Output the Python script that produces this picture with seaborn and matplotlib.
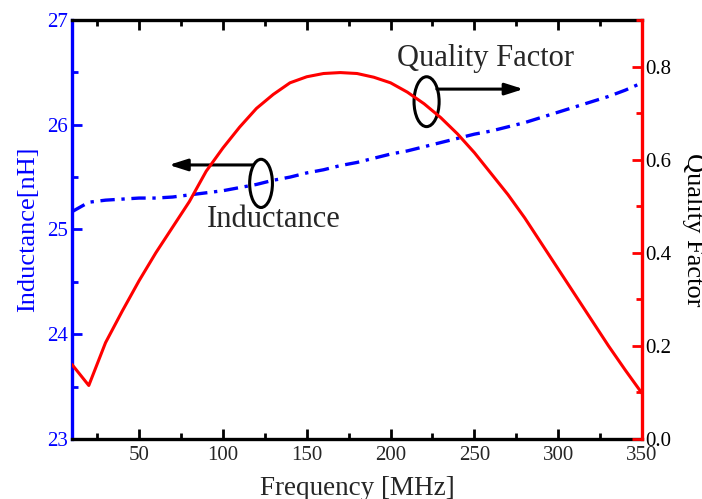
import numpy as np
import pandas as pd
import matplotlib
matplotlib.use("Agg")
import matplotlib.pyplot as plt
from matplotlib.patches import Ellipse
from matplotlib.ticker import MultipleLocator
import seaborn as sns

# values
freq_mhz = [10, 20, 30, 40, 50, 60, 70, 80, 90, 100, 110, 120, 130, 140, 150, 160, 170, 180,
            190, 200, 210, 220, 230, 240, 250, 260, 270, 280, 290, 300, 310, 320, 330, 340, 350]
inductance_nh = [25.17, 25.26, 25.28, 25.29, 25.30, 25.30, 25.31, 25.33, 25.35, 25.37, 25.40,
                 25.43, 25.47, 25.50, 25.54, 25.57, 25.61, 25.64, 25.68, 25.72, 25.75, 25.79,
                 25.83, 25.87, 25.91, 25.94, 25.98, 26.02, 26.07, 26.12, 26.17, 26.22, 26.27,
                 26.33, 26.40]
quality = [0.160, 0.115, 0.207, 0.275, 0.340, 0.400, 0.455, 0.510, 0.575, 0.625, 0.670, 0.710,
           0.740, 0.765, 0.778, 0.785, 0.787, 0.785, 0.777, 0.765, 0.745, 0.720, 0.690, 0.655,
           0.615, 0.570, 0.525, 0.475, 0.420, 0.365, 0.310, 0.255, 0.200, 0.148, 0.098]

df = pd.DataFrame({"Frequency": freq_mhz, "Inductance": inductance_nh, "Q": quality})

sns.set_style("ticks")
plt.rcParams["font.family"] = ["Liberation Serif", "DejaVu Serif"]

fig = plt.figure(figsize=(7.02, 4.99), dpi=100)
ax = fig.add_axes([0.1026, 0.1202, 0.812, 0.8398])
ax2 = ax.twinx()

sns.lineplot(data=df, x="Frequency", y="Inductance", ax=ax, color="#0000ff", lw=2.4,
             linestyle=(0, (4.3, 2.0, 1.0, 2.0)))
sns.lineplot(data=df, x="Frequency", y="Q", ax=ax2, color="#ff0000", lw=2.2)

ax.set_xlim(10, 350)
ax.set_ylim(23, 27)
ax2.set_ylim(0, 0.9)

ax.xaxis.set_major_locator(MultipleLocator(50))
ax.xaxis.set_minor_locator(MultipleLocator(25))
ax.yaxis.set_major_locator(MultipleLocator(1))
ax.yaxis.set_minor_locator(MultipleLocator(0.5))
ax2.yaxis.set_major_locator(MultipleLocator(0.2))
ax2.yaxis.set_minor_locator(MultipleLocator(0.1))
ax2.yaxis.set_major_formatter(matplotlib.ticker.FormatStrFormatter("%.1f"))

for s in ["top", "bottom"]:
    ax.spines[s].set_color("black")
    ax.spines[s].set_linewidth(2.4)
ax.spines["left"].set_color("#0000ff")
ax.spines["left"].set_linewidth(2.4)
ax.spines["right"].set_visible(False)
for s in ["top", "bottom", "left"]:
    ax2.spines[s].set_visible(False)
ax2.spines["right"].set_visible(True)
ax2.spines["right"].set_color("#ff0000")
ax2.spines["right"].set_linewidth(2.4)

ax.tick_params(axis="x", which="both", direction="in", top=True, bottom=True,
               color="black", width=2, labelsize=15, pad=5)
ax.tick_params(axis="x", which="major", length=7)
ax.tick_params(axis="x", which="minor", length=4)
ax.tick_params(axis="y", which="both", direction="in", left=True, right=False,
               color="#0000ff", labelcolor="#0000ff", width=2, labelsize=15, pad=3)
ax.tick_params(axis="y", which="major", length=7)
ax.tick_params(axis="y", which="minor", length=4)
ax2.tick_params(axis="y", which="both", direction="in", right=True, left=False,
                color="#ff0000", labelcolor="black", width=2, labelsize=15, pad=2)
ax2.tick_params(axis="y", which="major", length=7)
ax2.tick_params(axis="y", which="minor", length=4)

ax.set_xlabel("Frequency [MHz]", fontsize=19.5, labelpad=8)
ax.set_ylabel("Inductance[nH]", fontsize=19, color="#0000ff", labelpad=6)
ax2.set_ylabel("Quality Factor", fontsize=19, color="black", rotation=270, labelpad=24)

# annotation ellipses and arrows
arrow_style = "-|>,head_length=1.1,head_width=0.35"
ax.add_patch(Ellipse((0.3316, 0.610), 0.040, 0.115, transform=ax.transAxes,
                     fill=False, ec="black", lw=2.2, zorder=5))
ax.annotate("", xy=(0.170, 0.654), xytext=(0.318, 0.654), xycoords="axes fraction",
            arrowprops=dict(arrowstyle=arrow_style, color="black", lw=2.2,
                            shrinkA=0, shrinkB=0))
ax.text(0.3535, 0.524, "Inductance", transform=ax.transAxes, fontsize=22,
        ha="center", va="center")

ax.add_patch(Ellipse((0.622, 0.805), 0.044, 0.119, transform=ax.transAxes,
                     fill=False, ec="black", lw=2.2, zorder=5))
ax.annotate("", xy=(0.792, 0.835), xytext=(0.640, 0.835), xycoords="axes fraction",
            arrowprops=dict(arrowstyle=arrow_style, color="black", lw=2.2,
                            shrinkA=0, shrinkB=0))
ax.text(0.7246, 0.909, "Quality Factor", transform=ax.transAxes, fontsize=22,
        ha="center", va="center")

fig.savefig("out.png", dpi=100)
